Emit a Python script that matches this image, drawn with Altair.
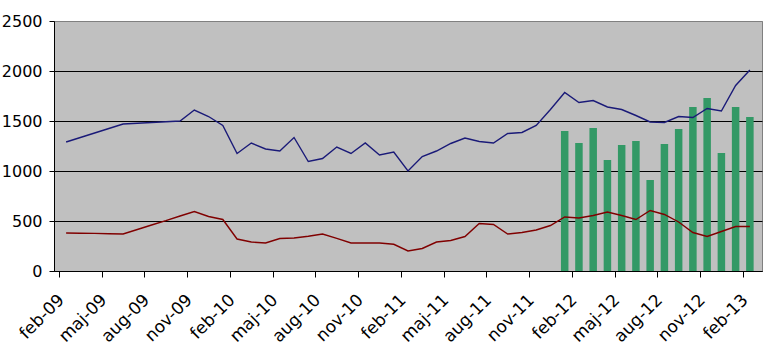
import altair as alt
import pandas as pd

months = ["feb-09", "mar-09", "apr-09", "maj-09", "jun-09", "jul-09", "aug-09", "sep-09", "okt-09", "nov-09", "dec-09", "jan-10",
          "feb-10", "mar-10", "apr-10", "maj-10", "jun-10", "jul-10", "aug-10", "sep-10", "okt-10", "nov-10", "dec-10", "jan-11",
          "feb-11", "mar-11", "apr-11", "maj-11", "jun-11", "jul-11", "aug-11", "sep-11", "okt-11", "nov-11", "dec-11", "jan-12",
          "feb-12", "mar-12", "apr-12", "maj-12", "jun-12", "jul-12", "aug-12", "sep-12", "okt-12", "nov-12", "dec-12", "jan-13",
          "feb-13"]

blue = [1290, 1335, 1380, 1425, 1470, 1478, 1485, 1493, 1500, 1610, 1545, 1455,
        1175, 1280, 1220, 1200, 1335, 1095, 1125, 1240, 1175, 1280, 1160, 1190,
        1000, 1145, 1200, 1275, 1330, 1295, 1280, 1375, 1385, 1455, 1615, 1785,
        1685, 1705, 1640, 1615, 1555, 1490, 1485, 1545, 1535, 1625, 1600, 1855,
        2010]

red = [380, 378, 376, 373, 370, 415, 460, 503, 550, 595, 545, 515,
       320, 290, 280, 325, 330, 347, 370, 327, 280, 280, 280, 267,
       200, 225, 290, 305, 345, 475, 465, 370, 385, 410, 455, 540,
       530, 555, 590, 555, 515, 605, 565, 490, 385, 345, 395, 445,
       445]

green_start = "jan-12"
green = [1400, 1280, 1430, 1110, 1260, 1300, 910, 1270, 1420, 1640, 1730, 1180, 1640, 1540]

y_ticks = [0, 500, 1000, 1500, 2000, 2500]

n = len(months)
df = pd.DataFrame({"i": list(range(n)), "month": months, "blue": blue, "red": red})
g0 = months.index(green_start)
gdf = pd.DataFrame({"i": list(range(g0, g0 + len(green))), "green": green})

tick_labels = months[0::3]
tick_vals = [3 * k - 0.5 for k in range(len(tick_labels))]
label_expr = "[" + ",".join("'" + m + "'" for m in tick_labels) + "][round((datum.value + 0.5) / 3)]"

FONT = "DejaVu Sans"

xscale = alt.Scale(domain=[-0.5, n - 0.5], nice=False, zero=False)
yscale = alt.Scale(domain=[0, 2500], nice=False)

xaxis = alt.Axis(values=tick_vals, labelExpr=label_expr, title=None, grid=False,
                 labelAngle=-45, labelAlign="right", labelBaseline="middle",
                 labelOffset=2, labelPadding=20, tickSize=6, labelFontSize=17,
                 labelFont=FONT, labelColor="black", domainColor="black", tickColor="black",
                 labelOverlap=False, labelBound=False)
yaxis = alt.Axis(values=y_ticks, title=None, grid=True, format="d",
                 gridColor=alt.condition("datum.value >= 2500", alt.value("#808080"), alt.value("black")),
                 tickSize=5, labelPadding=7, labelFontSize=16, labelFont=FONT, labelColor="black",
                 domainColor="black", tickColor="black", labelBaseline="middle")

bars = alt.Chart(gdf).mark_bar(color="#339966", size=7.5).encode(
    x=alt.X("i:Q", scale=xscale, axis=xaxis),
    y=alt.Y("green:Q", scale=yscale, axis=yaxis),
)

blue_line = alt.Chart(df).mark_line(color="#1a1a78", strokeWidth=1.4).encode(
    x=alt.X("i:Q", scale=xscale),
    y=alt.Y("blue:Q", scale=yscale),
)

red_line = alt.Chart(df).mark_line(color="#800000", strokeWidth=1.4).encode(
    x=alt.X("i:Q", scale=xscale),
    y=alt.Y("red:Q", scale=yscale),
)

chart = alt.layer(bars, blue_line, red_line).properties(
    width=708, height=250,
    autosize=alt.AutoSizeParams(type="none"),
    padding={"left": 54, "top": 21, "right": 15, "bottom": 80},
    background="white",
).configure_view(fill="#C0C0C0", stroke="#808080", strokeWidth=1)

chart.save("out.html", embed_options={"renderer": "svg", "actions": False})
